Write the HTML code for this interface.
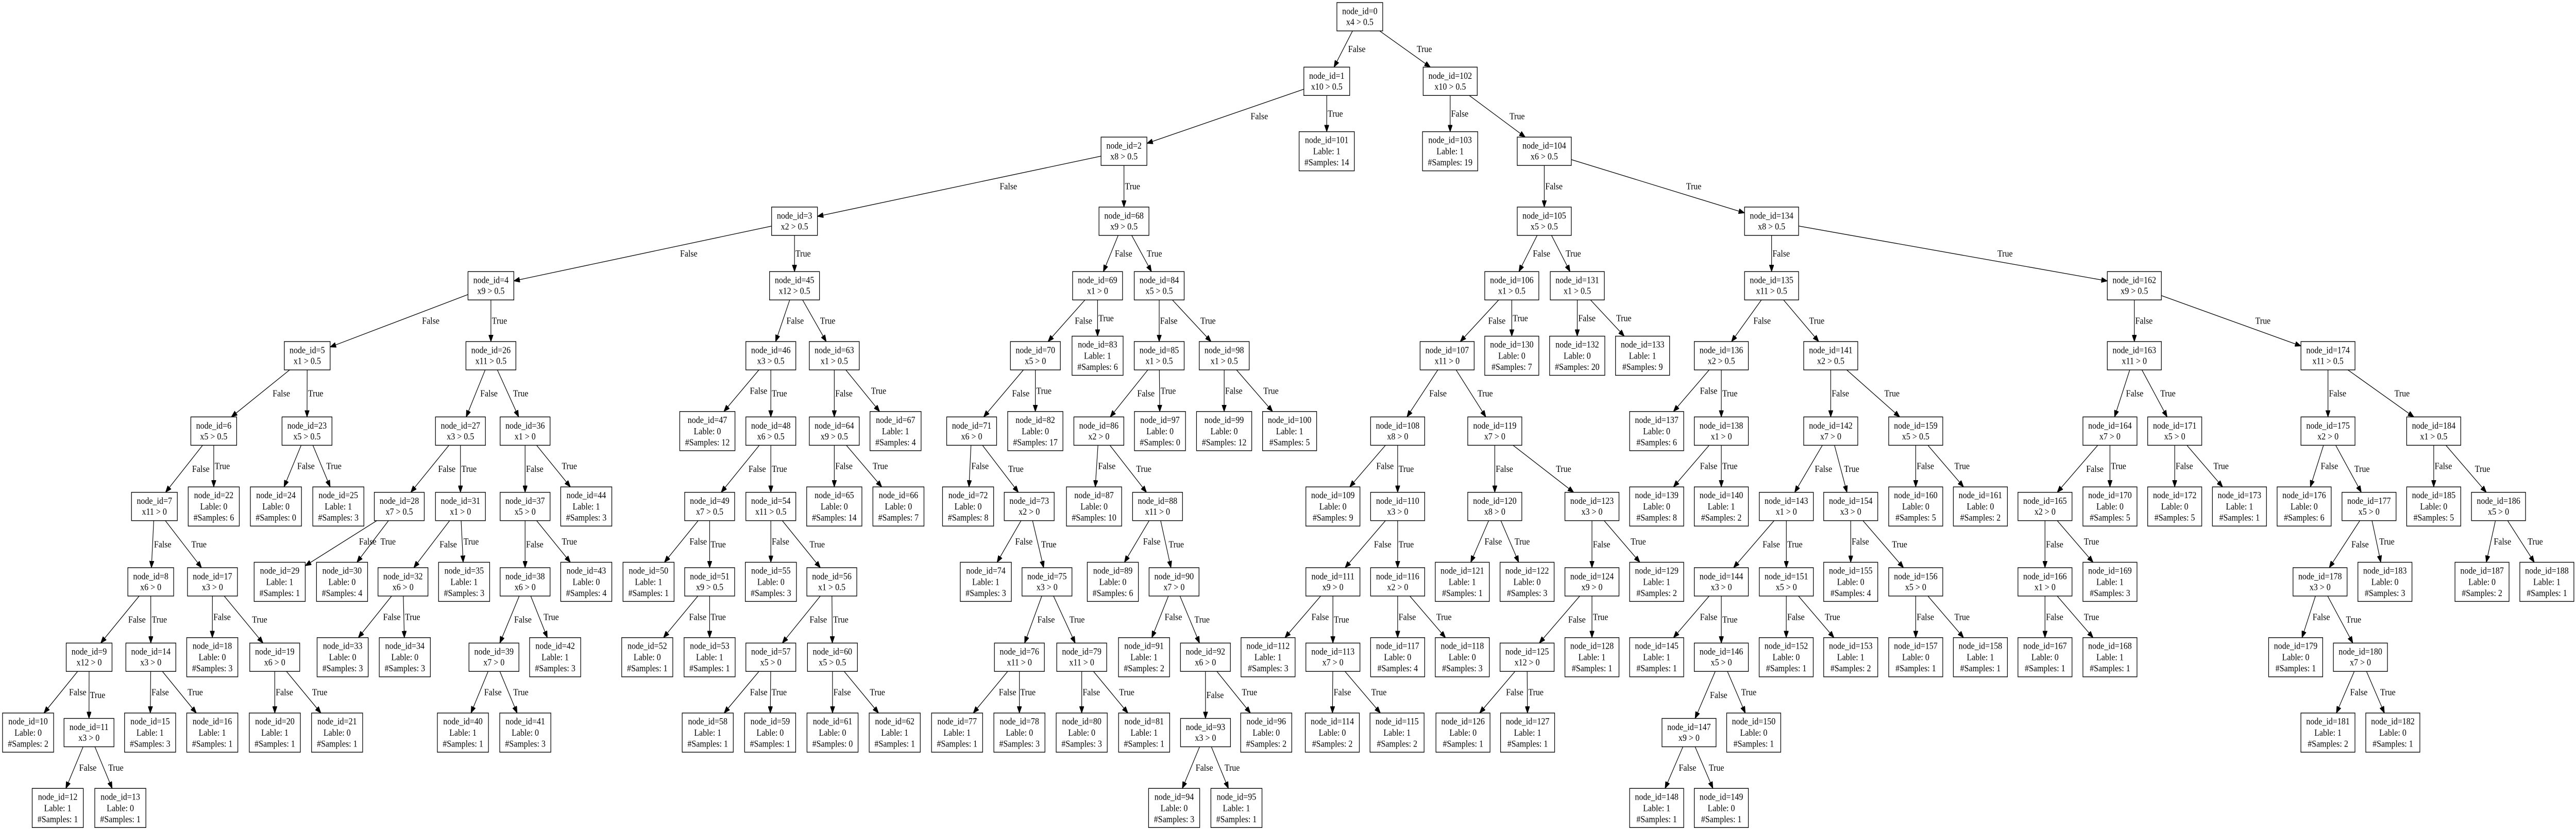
<!DOCTYPE html>
<html><head><meta charset="utf-8">
<style>
html,body{margin:0;padding:0;background:#fff;overflow:hidden}
svg{display:block;width:100vw;height:100vh}
text{font-family:"Liberation Serif","Times New Roman",serif;font-size:18px;text-anchor:middle;fill:#000}
text.el{text-anchor:start}
.bx{fill:#fff;stroke:#000;stroke-width:1.4}
#E line{stroke:#000;stroke-width:1.3}
</style></head><body>
<svg xmlns="http://www.w3.org/2000/svg" xmlns:xlink="http://www.w3.org/1999/xlink" width="5622" height="1613" viewBox="0 0 5622 1613" preserveAspectRatio="none">
<defs>
<rect id="i1" class="bx" x="-50" y="-27.5" width="100" height="55"/>
<rect id="i2" class="bx" x="-54.5" y="-27.5" width="109" height="55"/>
<rect id="i3" class="bx" x="-59" y="-27.5" width="118" height="55"/>
<rect id="la" class="bx" x="-55.75" y="-38" width="111.5" height="76"/>
<rect id="lb" class="bx" x="-60.25" y="-38" width="120.5" height="76"/>
<rect id="lc" class="bx" x="-59" y="-38" width="118" height="76"/>
<marker id="ah" viewBox="0 0 13 10" refX="13" refY="5" markerWidth="13" markerHeight="10" markerUnits="userSpaceOnUse" orient="auto"><path d="M0,0 L13,5 L0,10 z" fill="#000" stroke="#000" stroke-width="1"/></marker>
</defs>
<rect width="5622" height="1613" fill="#fff"/>
<g id="E"></g>
<g id="N">
<g class="n" id="n0" transform="translate(2967.7,32.5)"><use href="#i1"/><text y="-5">node_id=0</text><text y="16">x4 &gt; 0.5</text></g>
<g class="n" id="n1" transform="translate(2895.6,157.8)"><use href="#i1"/><text y="-5">node_id=1</text><text y="16">x10 &gt; 0.5</text></g>
<g class="n" id="n102" transform="translate(3165,157.8)"><use href="#i3"/><text y="-5">node_id=102</text><text y="16">x10 &gt; 0.5</text></g>
<g class="n" id="n101" transform="translate(2895.5,293.6)"><use href="#lb"/><text y="-16">node_id=101</text><text y="6">Lable: 1</text><text y="27.5">#Samples: 14</text></g>
<g class="n" id="n103" transform="translate(3164.8,293.6)"><use href="#lb"/><text y="-16">node_id=103</text><text y="6">Lable: 1</text><text y="27.5">#Samples: 19</text></g>
<g class="n" id="n104" transform="translate(3370.3,293.6)"><use href="#i3"/><text y="-5">node_id=104</text><text y="16">x6 &gt; 0.5</text></g>
<g class="n" id="n2" transform="translate(2453,293.6)"><use href="#i1"/><text y="-5">node_id=2</text><text y="16">x8 &gt; 0.5</text></g>
<g class="n" id="n3" transform="translate(1734,429.4)"><use href="#i1"/><text y="-5">node_id=3</text><text y="16">x2 &gt; 0.5</text></g>
<g class="n" id="n68" transform="translate(2453,429.4)"><use href="#i2"/><text y="-5">node_id=68</text><text y="16">x9 &gt; 0.5</text></g>
<g class="n" id="n105" transform="translate(3370.3,429.4)"><use href="#i3"/><text y="-5">node_id=105</text><text y="16">x5 &gt; 0.5</text></g>
<g class="n" id="n134" transform="translate(3866.4,429.4)"><use href="#i3"/><text y="-5">node_id=134</text><text y="16">x8 &gt; 0.5</text></g>
<g class="n" id="n4" transform="translate(1071.4,554.7)"><use href="#i1"/><text y="-5">node_id=4</text><text y="16">x9 &gt; 0.5</text></g>
<g class="n" id="n45" transform="translate(1734,554.7)"><use href="#i2"/><text y="-5">node_id=45</text><text y="16">x12 &gt; 0.5</text></g>
<g class="n" id="n69" transform="translate(2395.4,554.7)"><use href="#i2"/><text y="-5">node_id=69</text><text y="16">x1 &gt; 0</text></g>
<g class="n" id="n84" transform="translate(2529.9,554.7)"><use href="#i2"/><text y="-5">node_id=84</text><text y="16">x5 &gt; 0.5</text></g>
<g class="n" id="n106" transform="translate(3299.4,554.7)"><use href="#i3"/><text y="-5">node_id=106</text><text y="16">x1 &gt; 0.5</text></g>
<g class="n" id="n131" transform="translate(3442.4,554.7)"><use href="#i3"/><text y="-5">node_id=131</text><text y="16">x1 &gt; 0.5</text></g>
<g class="n" id="n135" transform="translate(3866.4,554.7)"><use href="#i3"/><text y="-5">node_id=135</text><text y="16">x11 &gt; 0.5</text></g>
<g class="n" id="n162" transform="translate(4658.1,554.7)"><use href="#i3"/><text y="-5">node_id=162</text><text y="16">x9 &gt; 0.5</text></g>
<g class="n" id="n5" transform="translate(670.5,690.5)"><use href="#i1"/><text y="-5">node_id=5</text><text y="16">x1 &gt; 0.5</text></g>
<g class="n" id="n26" transform="translate(1071.4,690.5)"><use href="#i2"/><text y="-5">node_id=26</text><text y="16">x11 &gt; 0.5</text></g>
<g class="n" id="n46" transform="translate(1682.3,690.5)"><use href="#i2"/><text y="-5">node_id=46</text><text y="16">x3 &gt; 0.5</text></g>
<g class="n" id="n63" transform="translate(1820.8,690.5)"><use href="#i2"/><text y="-5">node_id=63</text><text y="16">x1 &gt; 0.5</text></g>
<g class="n" id="n70" transform="translate(2259.7,690.5)"><use href="#i2"/><text y="-5">node_id=70</text><text y="16">x5 &gt; 0</text></g>
<g class="n" id="n83" transform="translate(2395.4,690.5)"><use href="#la"/><text y="-16">node_id=83</text><text y="6">Lable: 1</text><text y="27.5">#Samples: 6</text></g>
<g class="n" id="n85" transform="translate(2529.9,690.5)"><use href="#i2"/><text y="-5">node_id=85</text><text y="16">x1 &gt; 0.5</text></g>
<g class="n" id="n98" transform="translate(2671.8,690.5)"><use href="#i2"/><text y="-5">node_id=98</text><text y="16">x1 &gt; 0.5</text></g>
<g class="n" id="n107" transform="translate(3158.3,690.5)"><use href="#i3"/><text y="-5">node_id=107</text><text y="16">x11 &gt; 0</text></g>
<g class="n" id="n130" transform="translate(3299.4,690.5)"><use href="#lc"/><text y="-16">node_id=130</text><text y="6">Lable: 0</text><text y="27.5">#Samples: 7</text></g>
<g class="n" id="n132" transform="translate(3442.2,690.5)"><use href="#lb"/><text y="-16">node_id=132</text><text y="6">Lable: 0</text><text y="27.5">#Samples: 20</text></g>
<g class="n" id="n133" transform="translate(3584.8,690.5)"><use href="#lc"/><text y="-16">node_id=133</text><text y="6">Lable: 1</text><text y="27.5">#Samples: 9</text></g>
<g class="n" id="n136" transform="translate(3756.7,690.5)"><use href="#i3"/><text y="-5">node_id=136</text><text y="16">x2 &gt; 0.5</text></g>
<g class="n" id="n141" transform="translate(3995.5,690.5)"><use href="#i3"/><text y="-5">node_id=141</text><text y="16">x2 &gt; 0.5</text></g>
<g class="n" id="n163" transform="translate(4658.1,690.5)"><use href="#i3"/><text y="-5">node_id=163</text><text y="16">x11 &gt; 0</text></g>
<g class="n" id="n174" transform="translate(5080.7,690.5)"><use href="#i3"/><text y="-5">node_id=174</text><text y="16">x11 &gt; 0.5</text></g>
<g class="n" id="n6" transform="translate(466.5,836.8)"><use href="#i1"/><text y="-5">node_id=6</text><text y="16">x5 &gt; 0.5</text></g>
<g class="n" id="n23" transform="translate(670,836.8)"><use href="#i2"/><text y="-5">node_id=23</text><text y="16">x5 &gt; 0.5</text></g>
<g class="n" id="n27" transform="translate(1004.9,836.8)"><use href="#i2"/><text y="-5">node_id=27</text><text y="16">x3 &gt; 0.5</text></g>
<g class="n" id="n36" transform="translate(1146,836.8)"><use href="#i2"/><text y="-5">node_id=36</text><text y="16">x1 &gt; 0</text></g>
<g class="n" id="n47" transform="translate(1543.8,836.8)"><use href="#lb"/><text y="-16">node_id=47</text><text y="6">Lable: 0</text><text y="27.5">#Samples: 12</text></g>
<g class="n" id="n48" transform="translate(1682.3,836.8)"><use href="#i2"/><text y="-5">node_id=48</text><text y="16">x6 &gt; 0.5</text></g>
<g class="n" id="n64" transform="translate(1820.8,836.8)"><use href="#i2"/><text y="-5">node_id=64</text><text y="16">x9 &gt; 0.5</text></g>
<g class="n" id="n67" transform="translate(1954.5,836.8)"><use href="#la"/><text y="-16">node_id=67</text><text y="6">Lable: 1</text><text y="27.5">#Samples: 4</text></g>
<g class="n" id="n71" transform="translate(2120.6,836.8)"><use href="#i2"/><text y="-5">node_id=71</text><text y="16">x6 &gt; 0</text></g>
<g class="n" id="n82" transform="translate(2259.5,836.8)"><use href="#lb"/><text y="-16">node_id=82</text><text y="6">Lable: 0</text><text y="27.5">#Samples: 17</text></g>
<g class="n" id="n86" transform="translate(2398.2,836.8)"><use href="#i2"/><text y="-5">node_id=86</text><text y="16">x2 &gt; 0</text></g>
<g class="n" id="n97" transform="translate(2531.6,836.8)"><use href="#la"/><text y="-16">node_id=97</text><text y="6">Lable: 0</text><text y="27.5">#Samples: 0</text></g>
<g class="n" id="n99" transform="translate(2671.6,836.8)"><use href="#lb"/><text y="-16">node_id=99</text><text y="6">Lable: 0</text><text y="27.5">#Samples: 12</text></g>
<g class="n" id="n100" transform="translate(2814.5,836.8)"><use href="#lc"/><text y="-16">node_id=100</text><text y="6">Lable: 1</text><text y="27.5">#Samples: 5</text></g>
<g class="n" id="n108" transform="translate(3050.3,836.8)"><use href="#i3"/><text y="-5">node_id=108</text><text y="16">x8 &gt; 0</text></g>
<g class="n" id="n119" transform="translate(3262.3,836.8)"><use href="#i3"/><text y="-5">node_id=119</text><text y="16">x7 &gt; 0</text></g>
<g class="n" id="n137" transform="translate(3615.6,836.8)"><use href="#lc"/><text y="-16">node_id=137</text><text y="6">Lable: 0</text><text y="27.5">#Samples: 6</text></g>
<g class="n" id="n138" transform="translate(3756.7,836.8)"><use href="#i3"/><text y="-5">node_id=138</text><text y="16">x1 &gt; 0</text></g>
<g class="n" id="n142" transform="translate(3995.5,836.8)"><use href="#i3"/><text y="-5">node_id=142</text><text y="16">x7 &gt; 0</text></g>
<g class="n" id="n159" transform="translate(4181,836.8)"><use href="#i3"/><text y="-5">node_id=159</text><text y="16">x5 &gt; 0.5</text></g>
<g class="n" id="n164" transform="translate(4604.9,836.8)"><use href="#i3"/><text y="-5">node_id=164</text><text y="16">x7 &gt; 0</text></g>
<g class="n" id="n171" transform="translate(4746.2,836.8)"><use href="#i3"/><text y="-5">node_id=171</text><text y="16">x5 &gt; 0</text></g>
<g class="n" id="n175" transform="translate(5080.7,836.8)"><use href="#i3"/><text y="-5">node_id=175</text><text y="16">x2 &gt; 0</text></g>
<g class="n" id="n184" transform="translate(5311.5,836.8)"><use href="#i3"/><text y="-5">node_id=184</text><text y="16">x1 &gt; 0.5</text></g>
<g class="n" id="n7" transform="translate(337,983.1)"><use href="#i1"/><text y="-5">node_id=7</text><text y="16">x11 &gt; 0</text></g>
<g class="n" id="n22" transform="translate(466.5,983.1)"><use href="#la"/><text y="-16">node_id=22</text><text y="6">Lable: 0</text><text y="27.5">#Samples: 6</text></g>
<g class="n" id="n24" transform="translate(602.2,983.1)"><use href="#la"/><text y="-16">node_id=24</text><text y="6">Lable: 0</text><text y="27.5">#Samples: 0</text></g>
<g class="n" id="n25" transform="translate(738.4,983.1)"><use href="#la"/><text y="-16">node_id=25</text><text y="6">Lable: 1</text><text y="27.5">#Samples: 3</text></g>
<g class="n" id="n28" transform="translate(871.4,983.1)"><use href="#i2"/><text y="-5">node_id=28</text><text y="16">x7 &gt; 0.5</text></g>
<g class="n" id="n31" transform="translate(1004.9,983.1)"><use href="#i2"/><text y="-5">node_id=31</text><text y="16">x1 &gt; 0</text></g>
<g class="n" id="n37" transform="translate(1146,983.1)"><use href="#i2"/><text y="-5">node_id=37</text><text y="16">x5 &gt; 0</text></g>
<g class="n" id="n44" transform="translate(1279.5,983.1)"><use href="#la"/><text y="-16">node_id=44</text><text y="6">Lable: 1</text><text y="27.5">#Samples: 3</text></g>
<g class="n" id="n49" transform="translate(1548.8,983.1)"><use href="#i2"/><text y="-5">node_id=49</text><text y="16">x7 &gt; 0.5</text></g>
<g class="n" id="n54" transform="translate(1682.3,983.1)"><use href="#i2"/><text y="-5">node_id=54</text><text y="16">x11 &gt; 0.5</text></g>
<g class="n" id="n65" transform="translate(1820.8,983.1)"><use href="#lb"/><text y="-16">node_id=65</text><text y="6">Lable: 0</text><text y="27.5">#Samples: 14</text></g>
<g class="n" id="n66" transform="translate(1960.8,983.1)"><use href="#la"/><text y="-16">node_id=66</text><text y="6">Lable: 0</text><text y="27.5">#Samples: 7</text></g>
<g class="n" id="n72" transform="translate(2112.8,983.1)"><use href="#la"/><text y="-16">node_id=72</text><text y="6">Lable: 0</text><text y="27.5">#Samples: 8</text></g>
<g class="n" id="n73" transform="translate(2246.2,983.1)"><use href="#i2"/><text y="-5">node_id=73</text><text y="16">x2 &gt; 0</text></g>
<g class="n" id="n87" transform="translate(2387.7,983.1)"><use href="#lb"/><text y="-16">node_id=87</text><text y="6">Lable: 0</text><text y="27.5">#Samples: 10</text></g>
<g class="n" id="n88" transform="translate(2526.3,983.1)"><use href="#i2"/><text y="-5">node_id=88</text><text y="16">x11 &gt; 0</text></g>
<g class="n" id="n109" transform="translate(2909,983.1)"><use href="#lc"/><text y="-16">node_id=109</text><text y="6">Lable: 0</text><text y="27.5">#Samples: 9</text></g>
<g class="n" id="n110" transform="translate(3050.3,983.1)"><use href="#i3"/><text y="-5">node_id=110</text><text y="16">x3 &gt; 0</text></g>
<g class="n" id="n120" transform="translate(3262.3,983.1)"><use href="#i3"/><text y="-5">node_id=120</text><text y="16">x8 &gt; 0</text></g>
<g class="n" id="n123" transform="translate(3474.4,983.1)"><use href="#i3"/><text y="-5">node_id=123</text><text y="16">x3 &gt; 0</text></g>
<g class="n" id="n139" transform="translate(3615.6,983.1)"><use href="#lc"/><text y="-16">node_id=139</text><text y="6">Lable: 0</text><text y="27.5">#Samples: 8</text></g>
<g class="n" id="n140" transform="translate(3756.7,983.1)"><use href="#lc"/><text y="-16">node_id=140</text><text y="6">Lable: 1</text><text y="27.5">#Samples: 2</text></g>
<g class="n" id="n143" transform="translate(3898.6,983.1)"><use href="#i3"/><text y="-5">node_id=143</text><text y="16">x1 &gt; 0</text></g>
<g class="n" id="n154" transform="translate(4039.1,983.1)"><use href="#i3"/><text y="-5">node_id=154</text><text y="16">x3 &gt; 0</text></g>
<g class="n" id="n160" transform="translate(4181,983.1)"><use href="#lc"/><text y="-16">node_id=160</text><text y="6">Lable: 0</text><text y="27.5">#Samples: 5</text></g>
<g class="n" id="n161" transform="translate(4322.1,983.1)"><use href="#lc"/><text y="-16">node_id=161</text><text y="6">Lable: 0</text><text y="27.5">#Samples: 2</text></g>
<g class="n" id="n165" transform="translate(4463.1,983.1)"><use href="#i3"/><text y="-5">node_id=165</text><text y="16">x2 &gt; 0</text></g>
<g class="n" id="n170" transform="translate(4604.9,983.1)"><use href="#lc"/><text y="-16">node_id=170</text><text y="6">Lable: 0</text><text y="27.5">#Samples: 5</text></g>
<g class="n" id="n172" transform="translate(4746.2,983.1)"><use href="#lc"/><text y="-16">node_id=172</text><text y="6">Lable: 0</text><text y="27.5">#Samples: 5</text></g>
<g class="n" id="n173" transform="translate(4887.5,983.1)"><use href="#lc"/><text y="-16">node_id=173</text><text y="6">Lable: 1</text><text y="27.5">#Samples: 1</text></g>
<g class="n" id="n176" transform="translate(5028.7,983.1)"><use href="#lc"/><text y="-16">node_id=176</text><text y="6">Lable: 0</text><text y="27.5">#Samples: 6</text></g>
<g class="n" id="n177" transform="translate(5170.3,983.1)"><use href="#i3"/><text y="-5">node_id=177</text><text y="16">x5 &gt; 0</text></g>
<g class="n" id="n185" transform="translate(5311.5,983.1)"><use href="#lc"/><text y="-16">node_id=185</text><text y="6">Lable: 0</text><text y="27.5">#Samples: 5</text></g>
<g class="n" id="n186" transform="translate(5452.9,983.1)"><use href="#i3"/><text y="-5">node_id=186</text><text y="16">x5 &gt; 0</text></g>
<g class="n" id="n8" transform="translate(329,1129.4)"><use href="#i1"/><text y="-5">node_id=8</text><text y="16">x6 &gt; 0</text></g>
<g class="n" id="n17" transform="translate(463.7,1129.4)"><use href="#i2"/><text y="-5">node_id=17</text><text y="16">x3 &gt; 0</text></g>
<g class="n" id="n29" transform="translate(610.4,1129.4)"><use href="#la"/><text y="-16">node_id=29</text><text y="6">Lable: 1</text><text y="27.5">#Samples: 1</text></g>
<g class="n" id="n30" transform="translate(746.5,1129.4)"><use href="#la"/><text y="-16">node_id=30</text><text y="6">Lable: 0</text><text y="27.5">#Samples: 4</text></g>
<g class="n" id="n32" transform="translate(879.5,1129.4)"><use href="#i2"/><text y="-5">node_id=32</text><text y="16">x6 &gt; 0</text></g>
<g class="n" id="n35" transform="translate(1012.9,1129.4)"><use href="#la"/><text y="-16">node_id=35</text><text y="6">Lable: 1</text><text y="27.5">#Samples: 3</text></g>
<g class="n" id="n38" transform="translate(1146,1129.4)"><use href="#i2"/><text y="-5">node_id=38</text><text y="16">x6 &gt; 0</text></g>
<g class="n" id="n43" transform="translate(1279.5,1129.4)"><use href="#la"/><text y="-16">node_id=43</text><text y="6">Lable: 0</text><text y="27.5">#Samples: 4</text></g>
<g class="n" id="n50" transform="translate(1415.4,1129.4)"><use href="#la"/><text y="-16">node_id=50</text><text y="6">Lable: 1</text><text y="27.5">#Samples: 1</text></g>
<g class="n" id="n51" transform="translate(1548.8,1129.4)"><use href="#i2"/><text y="-5">node_id=51</text><text y="16">x9 &gt; 0.5</text></g>
<g class="n" id="n55" transform="translate(1682.4,1129.4)"><use href="#la"/><text y="-16">node_id=55</text><text y="6">Lable: 0</text><text y="27.5">#Samples: 3</text></g>
<g class="n" id="n56" transform="translate(1815.4,1129.4)"><use href="#i2"/><text y="-5">node_id=56</text><text y="16">x1 &gt; 0.5</text></g>
<g class="n" id="n74" transform="translate(2151.5,1129.4)"><use href="#la"/><text y="-16">node_id=74</text><text y="6">Lable: 1</text><text y="27.5">#Samples: 3</text></g>
<g class="n" id="n75" transform="translate(2285,1129.4)"><use href="#i2"/><text y="-5">node_id=75</text><text y="16">x3 &gt; 0</text></g>
<g class="n" id="n89" transform="translate(2428.7,1129.4)"><use href="#la"/><text y="-16">node_id=89</text><text y="6">Lable: 0</text><text y="27.5">#Samples: 6</text></g>
<g class="n" id="n90" transform="translate(2562.3,1129.4)"><use href="#i2"/><text y="-5">node_id=90</text><text y="16">x7 &gt; 0</text></g>
<g class="n" id="n111" transform="translate(2909,1129.4)"><use href="#i3"/><text y="-5">node_id=111</text><text y="16">x9 &gt; 0</text></g>
<g class="n" id="n116" transform="translate(3050.3,1129.4)"><use href="#i3"/><text y="-5">node_id=116</text><text y="16">x2 &gt; 0</text></g>
<g class="n" id="n121" transform="translate(3191.4,1129.4)"><use href="#lc"/><text y="-16">node_id=121</text><text y="6">Lable: 1</text><text y="27.5">#Samples: 1</text></g>
<g class="n" id="n122" transform="translate(3332.8,1129.4)"><use href="#lc"/><text y="-16">node_id=122</text><text y="6">Lable: 0</text><text y="27.5">#Samples: 3</text></g>
<g class="n" id="n124" transform="translate(3474.4,1129.4)"><use href="#i3"/><text y="-5">node_id=124</text><text y="16">x9 &gt; 0</text></g>
<g class="n" id="n129" transform="translate(3615.6,1129.4)"><use href="#lc"/><text y="-16">node_id=129</text><text y="6">Lable: 1</text><text y="27.5">#Samples: 2</text></g>
<g class="n" id="n144" transform="translate(3756.7,1129.4)"><use href="#i3"/><text y="-5">node_id=144</text><text y="16">x3 &gt; 0</text></g>
<g class="n" id="n151" transform="translate(3898.6,1129.4)"><use href="#i3"/><text y="-5">node_id=151</text><text y="16">x5 &gt; 0</text></g>
<g class="n" id="n155" transform="translate(4039.1,1129.4)"><use href="#lc"/><text y="-16">node_id=155</text><text y="6">Lable: 0</text><text y="27.5">#Samples: 4</text></g>
<g class="n" id="n156" transform="translate(4181,1129.4)"><use href="#i3"/><text y="-5">node_id=156</text><text y="16">x5 &gt; 0</text></g>
<g class="n" id="n166" transform="translate(4463.1,1129.4)"><use href="#i3"/><text y="-5">node_id=166</text><text y="16">x1 &gt; 0</text></g>
<g class="n" id="n169" transform="translate(4604.9,1129.4)"><use href="#lc"/><text y="-16">node_id=169</text><text y="6">Lable: 1</text><text y="27.5">#Samples: 3</text></g>
<g class="n" id="n178" transform="translate(5063.4,1129.4)"><use href="#i3"/><text y="-5">node_id=178</text><text y="16">x3 &gt; 0</text></g>
<g class="n" id="n183" transform="translate(5205,1129.4)"><use href="#lc"/><text y="-16">node_id=183</text><text y="6">Lable: 0</text><text y="27.5">#Samples: 3</text></g>
<g class="n" id="n187" transform="translate(5416.9,1129.4)"><use href="#lc"/><text y="-16">node_id=187</text><text y="6">Lable: 0</text><text y="27.5">#Samples: 2</text></g>
<g class="n" id="n188" transform="translate(5558.4,1129.4)"><use href="#lc"/><text y="-16">node_id=188</text><text y="6">Lable: 1</text><text y="27.5">#Samples: 1</text></g>
<g class="n" id="n9" transform="translate(194.5,1275.7)"><use href="#i1"/><text y="-5">node_id=9</text><text y="16">x12 &gt; 0</text></g>
<g class="n" id="n14" transform="translate(329.2,1275.7)"><use href="#i2"/><text y="-5">node_id=14</text><text y="16">x3 &gt; 0</text></g>
<g class="n" id="n18" transform="translate(463.3,1275.7)"><use href="#la"/><text y="-16">node_id=18</text><text y="6">Lable: 0</text><text y="27.5">#Samples: 3</text></g>
<g class="n" id="n19" transform="translate(599.6,1275.7)"><use href="#i2"/><text y="-5">node_id=19</text><text y="16">x6 &gt; 0</text></g>
<g class="n" id="n33" transform="translate(747.8,1275.7)"><use href="#la"/><text y="-16">node_id=33</text><text y="6">Lable: 0</text><text y="27.5">#Samples: 3</text></g>
<g class="n" id="n34" transform="translate(883.5,1275.7)"><use href="#la"/><text y="-16">node_id=34</text><text y="6">Lable: 0</text><text y="27.5">#Samples: 3</text></g>
<g class="n" id="n39" transform="translate(1078,1275.7)"><use href="#i2"/><text y="-5">node_id=39</text><text y="16">x7 &gt; 0</text></g>
<g class="n" id="n42" transform="translate(1211.6,1275.7)"><use href="#la"/><text y="-16">node_id=42</text><text y="6">Lable: 1</text><text y="27.5">#Samples: 3</text></g>
<g class="n" id="n52" transform="translate(1412.6,1275.7)"><use href="#la"/><text y="-16">node_id=52</text><text y="6">Lable: 0</text><text y="27.5">#Samples: 1</text></g>
<g class="n" id="n53" transform="translate(1548.7,1275.7)"><use href="#la"/><text y="-16">node_id=53</text><text y="6">Lable: 1</text><text y="27.5">#Samples: 1</text></g>
<g class="n" id="n57" transform="translate(1682.3,1275.7)"><use href="#i2"/><text y="-5">node_id=57</text><text y="16">x5 &gt; 0</text></g>
<g class="n" id="n60" transform="translate(1816.8,1275.7)"><use href="#i2"/><text y="-5">node_id=60</text><text y="16">x5 &gt; 0.5</text></g>
<g class="n" id="n76" transform="translate(2224.8,1275.7)"><use href="#i2"/><text y="-5">node_id=76</text><text y="16">x11 &gt; 0</text></g>
<g class="n" id="n79" transform="translate(2360.8,1275.7)"><use href="#i2"/><text y="-5">node_id=79</text><text y="16">x11 &gt; 0</text></g>
<g class="n" id="n91" transform="translate(2496.8,1275.7)"><use href="#la"/><text y="-16">node_id=91</text><text y="6">Lable: 1</text><text y="27.5">#Samples: 2</text></g>
<g class="n" id="n92" transform="translate(2630.8,1275.7)"><use href="#i2"/><text y="-5">node_id=92</text><text y="16">x6 &gt; 0</text></g>
<g class="n" id="n112" transform="translate(2767.5,1275.7)"><use href="#lc"/><text y="-16">node_id=112</text><text y="6">Lable: 1</text><text y="27.5">#Samples: 3</text></g>
<g class="n" id="n113" transform="translate(2909,1275.7)"><use href="#i3"/><text y="-5">node_id=113</text><text y="16">x7 &gt; 0</text></g>
<g class="n" id="n117" transform="translate(3050.3,1275.7)"><use href="#lc"/><text y="-16">node_id=117</text><text y="6">Lable: 0</text><text y="27.5">#Samples: 4</text></g>
<g class="n" id="n118" transform="translate(3191.4,1275.7)"><use href="#lc"/><text y="-16">node_id=118</text><text y="6">Lable: 0</text><text y="27.5">#Samples: 3</text></g>
<g class="n" id="n125" transform="translate(3332.8,1275.7)"><use href="#i3"/><text y="-5">node_id=125</text><text y="16">x12 &gt; 0</text></g>
<g class="n" id="n128" transform="translate(3474.4,1275.7)"><use href="#lc"/><text y="-16">node_id=128</text><text y="6">Lable: 1</text><text y="27.5">#Samples: 1</text></g>
<g class="n" id="n145" transform="translate(3615.6,1275.7)"><use href="#lc"/><text y="-16">node_id=145</text><text y="6">Lable: 1</text><text y="27.5">#Samples: 1</text></g>
<g class="n" id="n146" transform="translate(3756.7,1275.7)"><use href="#i3"/><text y="-5">node_id=146</text><text y="16">x5 &gt; 0</text></g>
<g class="n" id="n152" transform="translate(3898.3,1275.7)"><use href="#lc"/><text y="-16">node_id=152</text><text y="6">Lable: 0</text><text y="27.5">#Samples: 1</text></g>
<g class="n" id="n153" transform="translate(4039.1,1275.7)"><use href="#lc"/><text y="-16">node_id=153</text><text y="6">Lable: 1</text><text y="27.5">#Samples: 2</text></g>
<g class="n" id="n157" transform="translate(4181,1275.7)"><use href="#lc"/><text y="-16">node_id=157</text><text y="6">Lable: 0</text><text y="27.5">#Samples: 1</text></g>
<g class="n" id="n158" transform="translate(4322.1,1275.7)"><use href="#lc"/><text y="-16">node_id=158</text><text y="6">Lable: 1</text><text y="27.5">#Samples: 1</text></g>
<g class="n" id="n167" transform="translate(4463.1,1275.7)"><use href="#lc"/><text y="-16">node_id=167</text><text y="6">Lable: 0</text><text y="27.5">#Samples: 1</text></g>
<g class="n" id="n168" transform="translate(4604.9,1275.7)"><use href="#lc"/><text y="-16">node_id=168</text><text y="6">Lable: 1</text><text y="27.5">#Samples: 1</text></g>
<g class="n" id="n179" transform="translate(5010.2,1275.7)"><use href="#lc"/><text y="-16">node_id=179</text><text y="6">Lable: 0</text><text y="27.5">#Samples: 1</text></g>
<g class="n" id="n180" transform="translate(5151.5,1275.7)"><use href="#i3"/><text y="-5">node_id=180</text><text y="16">x7 &gt; 0</text></g>
<g class="n" id="n10" transform="translate(61.3,1422)"><use href="#la"/><text y="-16">node_id=10</text><text y="6">Lable: 0</text><text y="27.5">#Samples: 2</text></g>
<g class="n" id="n11" transform="translate(194.2,1422)"><use href="#i2"/><text y="-5">node_id=11</text><text y="16">x3 &gt; 0</text></g>
<g class="n" id="n15" transform="translate(327.6,1422)"><use href="#la"/><text y="-16">node_id=15</text><text y="6">Lable: 1</text><text y="27.5">#Samples: 3</text></g>
<g class="n" id="n16" transform="translate(463.3,1422)"><use href="#la"/><text y="-16">node_id=16</text><text y="6">Lable: 1</text><text y="27.5">#Samples: 1</text></g>
<g class="n" id="n20" transform="translate(599.8,1422)"><use href="#la"/><text y="-16">node_id=20</text><text y="6">Lable: 1</text><text y="27.5">#Samples: 1</text></g>
<g class="n" id="n21" transform="translate(735.7,1422)"><use href="#la"/><text y="-16">node_id=21</text><text y="6">Lable: 0</text><text y="27.5">#Samples: 1</text></g>
<g class="n" id="n40" transform="translate(1010.3,1422)"><use href="#la"/><text y="-16">node_id=40</text><text y="6">Lable: 1</text><text y="27.5">#Samples: 1</text></g>
<g class="n" id="n41" transform="translate(1146.4,1422)"><use href="#la"/><text y="-16">node_id=41</text><text y="6">Lable: 0</text><text y="27.5">#Samples: 3</text></g>
<g class="n" id="n58" transform="translate(1544.6,1422)"><use href="#la"/><text y="-16">node_id=58</text><text y="6">Lable: 1</text><text y="27.5">#Samples: 1</text></g>
<g class="n" id="n59" transform="translate(1680.8,1422)"><use href="#la"/><text y="-16">node_id=59</text><text y="6">Lable: 0</text><text y="27.5">#Samples: 1</text></g>
<g class="n" id="n61" transform="translate(1817,1422)"><use href="#la"/><text y="-16">node_id=61</text><text y="6">Lable: 0</text><text y="27.5">#Samples: 0</text></g>
<g class="n" id="n62" transform="translate(1952.7,1422)"><use href="#la"/><text y="-16">node_id=62</text><text y="6">Lable: 1</text><text y="27.5">#Samples: 1</text></g>
<g class="n" id="n77" transform="translate(2088.8,1422)"><use href="#la"/><text y="-16">node_id=77</text><text y="6">Lable: 1</text><text y="27.5">#Samples: 1</text></g>
<g class="n" id="n78" transform="translate(2224.8,1422)"><use href="#la"/><text y="-16">node_id=78</text><text y="6">Lable: 0</text><text y="27.5">#Samples: 3</text></g>
<g class="n" id="n80" transform="translate(2360.8,1422)"><use href="#la"/><text y="-16">node_id=80</text><text y="6">Lable: 0</text><text y="27.5">#Samples: 3</text></g>
<g class="n" id="n81" transform="translate(2497,1422)"><use href="#la"/><text y="-16">node_id=81</text><text y="6">Lable: 1</text><text y="27.5">#Samples: 1</text></g>
<g class="n" id="n93" transform="translate(2631,1422)"><use href="#i2"/><text y="-5">node_id=93</text><text y="16">x3 &gt; 0</text></g>
<g class="n" id="n96" transform="translate(2763.5,1422)"><use href="#la"/><text y="-16">node_id=96</text><text y="6">Lable: 0</text><text y="27.5">#Samples: 2</text></g>
<g class="n" id="n114" transform="translate(2907.7,1422)"><use href="#lc"/><text y="-16">node_id=114</text><text y="6">Lable: 0</text><text y="27.5">#Samples: 2</text></g>
<g class="n" id="n115" transform="translate(3049,1422)"><use href="#lc"/><text y="-16">node_id=115</text><text y="6">Lable: 1</text><text y="27.5">#Samples: 2</text></g>
<g class="n" id="n126" transform="translate(3192.9,1422)"><use href="#lc"/><text y="-16">node_id=126</text><text y="6">Lable: 0</text><text y="27.5">#Samples: 1</text></g>
<g class="n" id="n127" transform="translate(3333.9,1422)"><use href="#lc"/><text y="-16">node_id=127</text><text y="6">Lable: 1</text><text y="27.5">#Samples: 1</text></g>
<g class="n" id="n147" transform="translate(3686.2,1422)"><use href="#i3"/><text y="-5">node_id=147</text><text y="16">x9 &gt; 0</text></g>
<g class="n" id="n150" transform="translate(3827.4,1422)"><use href="#lc"/><text y="-16">node_id=150</text><text y="6">Lable: 0</text><text y="27.5">#Samples: 1</text></g>
<g class="n" id="n181" transform="translate(5080.6,1422)"><use href="#lc"/><text y="-16">node_id=181</text><text y="6">Lable: 1</text><text y="27.5">#Samples: 2</text></g>
<g class="n" id="n182" transform="translate(5222.2,1422)"><use href="#lc"/><text y="-16">node_id=182</text><text y="6">Lable: 0</text><text y="27.5">#Samples: 1</text></g>
<g class="n" id="n12" transform="translate(126,1568.3)"><use href="#la"/><text y="-16">node_id=12</text><text y="6">Lable: 1</text><text y="27.5">#Samples: 1</text></g>
<g class="n" id="n13" transform="translate(262.6,1568.3)"><use href="#la"/><text y="-16">node_id=13</text><text y="6">Lable: 0</text><text y="27.5">#Samples: 1</text></g>
<g class="n" id="n94" transform="translate(2562.5,1568.3)"><use href="#la"/><text y="-16">node_id=94</text><text y="6">Lable: 0</text><text y="27.5">#Samples: 3</text></g>
<g class="n" id="n95" transform="translate(2698.5,1568.3)"><use href="#la"/><text y="-16">node_id=95</text><text y="6">Lable: 1</text><text y="27.5">#Samples: 1</text></g>
<g class="n" id="n148" transform="translate(3615.6,1568.3)"><use href="#lc"/><text y="-16">node_id=148</text><text y="6">Lable: 1</text><text y="27.5">#Samples: 1</text></g>
<g class="n" id="n149" transform="translate(3756.7,1568.3)"><use href="#lc"/><text y="-16">node_id=149</text><text y="6">Lable: 0</text><text y="27.5">#Samples: 1</text></g>
</g>
<g id="LB">
<text class="el" id="L1">False</text><text class="el" id="L102">True</text>
<text class="el" id="L2">False</text><text class="el" id="L101">True</text>
<text class="el" id="L3">False</text><text class="el" id="L68">True</text>
<text class="el" id="L4">False</text><text class="el" id="L45">True</text>
<text class="el" id="L5">False</text><text class="el" id="L26">True</text>
<text class="el" id="L6">False</text><text class="el" id="L23">True</text>
<text class="el" id="L7">False</text><text class="el" id="L22">True</text>
<text class="el" id="L8">False</text><text class="el" id="L17">True</text>
<text class="el" id="L9">False</text><text class="el" id="L14">True</text>
<text class="el" id="L10">False</text><text class="el" id="L11">True</text>
<text class="el" id="L12">False</text><text class="el" id="L13">True</text>
<text class="el" id="L15">False</text><text class="el" id="L16">True</text>
<text class="el" id="L18">False</text><text class="el" id="L19">True</text>
<text class="el" id="L20">False</text><text class="el" id="L21">True</text>
<text class="el" id="L24">False</text><text class="el" id="L25">True</text>
<text class="el" id="L27">False</text><text class="el" id="L36">True</text>
<text class="el" id="L28">False</text><text class="el" id="L31">True</text>
<text class="el" id="L29">False</text><text class="el" id="L30">True</text>
<text class="el" id="L32">False</text><text class="el" id="L35">True</text>
<text class="el" id="L33">False</text><text class="el" id="L34">True</text>
<text class="el" id="L37">False</text><text class="el" id="L44">True</text>
<text class="el" id="L38">False</text><text class="el" id="L43">True</text>
<text class="el" id="L39">False</text><text class="el" id="L42">True</text>
<text class="el" id="L40">False</text><text class="el" id="L41">True</text>
<text class="el" id="L46">False</text><text class="el" id="L63">True</text>
<text class="el" id="L47">False</text><text class="el" id="L48">True</text>
<text class="el" id="L49">False</text><text class="el" id="L54">True</text>
<text class="el" id="L50">False</text><text class="el" id="L51">True</text>
<text class="el" id="L52">False</text><text class="el" id="L53">True</text>
<text class="el" id="L55">False</text><text class="el" id="L56">True</text>
<text class="el" id="L57">False</text><text class="el" id="L60">True</text>
<text class="el" id="L58">False</text><text class="el" id="L59">True</text>
<text class="el" id="L61">False</text><text class="el" id="L62">True</text>
<text class="el" id="L64">False</text><text class="el" id="L67">True</text>
<text class="el" id="L65">False</text><text class="el" id="L66">True</text>
<text class="el" id="L69">False</text><text class="el" id="L84">True</text>
<text class="el" id="L70">False</text><text class="el" id="L83">True</text>
<text class="el" id="L71">False</text><text class="el" id="L82">True</text>
<text class="el" id="L72">False</text><text class="el" id="L73">True</text>
<text class="el" id="L74">False</text><text class="el" id="L75">True</text>
<text class="el" id="L76">False</text><text class="el" id="L79">True</text>
<text class="el" id="L77">False</text><text class="el" id="L78">True</text>
<text class="el" id="L80">False</text><text class="el" id="L81">True</text>
<text class="el" id="L85">False</text><text class="el" id="L98">True</text>
<text class="el" id="L86">False</text><text class="el" id="L97">True</text>
<text class="el" id="L87">False</text><text class="el" id="L88">True</text>
<text class="el" id="L89">False</text><text class="el" id="L90">True</text>
<text class="el" id="L91">False</text><text class="el" id="L92">True</text>
<text class="el" id="L93">False</text><text class="el" id="L96">True</text>
<text class="el" id="L94">False</text><text class="el" id="L95">True</text>
<text class="el" id="L99">False</text><text class="el" id="L100">True</text>
<text class="el" id="L103">False</text><text class="el" id="L104">True</text>
<text class="el" id="L105">False</text><text class="el" id="L134">True</text>
<text class="el" id="L106">False</text><text class="el" id="L131">True</text>
<text class="el" id="L107">False</text><text class="el" id="L130">True</text>
<text class="el" id="L108">False</text><text class="el" id="L119">True</text>
<text class="el" id="L109">False</text><text class="el" id="L110">True</text>
<text class="el" id="L111">False</text><text class="el" id="L116">True</text>
<text class="el" id="L112">False</text><text class="el" id="L113">True</text>
<text class="el" id="L114">False</text><text class="el" id="L115">True</text>
<text class="el" id="L117">False</text><text class="el" id="L118">True</text>
<text class="el" id="L120">False</text><text class="el" id="L123">True</text>
<text class="el" id="L121">False</text><text class="el" id="L122">True</text>
<text class="el" id="L124">False</text><text class="el" id="L129">True</text>
<text class="el" id="L125">False</text><text class="el" id="L128">True</text>
<text class="el" id="L126">False</text><text class="el" id="L127">True</text>
<text class="el" id="L132">False</text><text class="el" id="L133">True</text>
<text class="el" id="L135">False</text><text class="el" id="L162">True</text>
<text class="el" id="L136">False</text><text class="el" id="L141">True</text>
<text class="el" id="L137">False</text><text class="el" id="L138">True</text>
<text class="el" id="L139">False</text><text class="el" id="L140">True</text>
<text class="el" id="L142">False</text><text class="el" id="L159">True</text>
<text class="el" id="L143">False</text><text class="el" id="L154">True</text>
<text class="el" id="L144">False</text><text class="el" id="L151">True</text>
<text class="el" id="L145">False</text><text class="el" id="L146">True</text>
<text class="el" id="L147">False</text><text class="el" id="L150">True</text>
<text class="el" id="L148">False</text><text class="el" id="L149">True</text>
<text class="el" id="L152">False</text><text class="el" id="L153">True</text>
<text class="el" id="L155">False</text><text class="el" id="L156">True</text>
<text class="el" id="L157">False</text><text class="el" id="L158">True</text>
<text class="el" id="L160">False</text><text class="el" id="L161">True</text>
<text class="el" id="L163">False</text><text class="el" id="L174">True</text>
<text class="el" id="L164">False</text><text class="el" id="L171">True</text>
<text class="el" id="L165">False</text><text class="el" id="L170">True</text>
<text class="el" id="L166">False</text><text class="el" id="L169">True</text>
<text class="el" id="L167">False</text><text class="el" id="L168">True</text>
<text class="el" id="L172">False</text><text class="el" id="L173">True</text>
<text class="el" id="L175">False</text><text class="el" id="L184">True</text>
<text class="el" id="L176">False</text><text class="el" id="L177">True</text>
<text class="el" id="L178">False</text><text class="el" id="L183">True</text>
<text class="el" id="L179">False</text><text class="el" id="L180">True</text>
<text class="el" id="L181">False</text><text class="el" id="L182">True</text>
<text class="el" id="L185">False</text><text class="el" id="L186">True</text>
<text class="el" id="L187">False</text><text class="el" id="L188">True</text>
</g>
</svg>
<script>
(function(){
var T={0:[1,102],1:[2,101],2:[3,68],3:[4,45],4:[5,26],5:[6,23],6:[7,22],7:[8,17],8:[9,14],9:[10,11],11:[12,13],14:[15,16],17:[18,19],19:[20,21],23:[24,25],26:[27,36],27:[28,31],28:[29,30],31:[32,35],32:[33,34],36:[37,44],37:[38,43],38:[39,42],39:[40,41],45:[46,63],46:[47,48],48:[49,54],49:[50,51],51:[52,53],54:[55,56],56:[57,60],57:[58,59],60:[61,62],63:[64,67],64:[65,66],68:[69,84],69:[70,83],70:[71,82],71:[72,73],73:[74,75],75:[76,79],76:[77,78],79:[80,81],84:[85,98],85:[86,97],86:[87,88],88:[89,90],90:[91,92],92:[93,96],93:[94,95],98:[99,100],102:[103,104],104:[105,134],105:[106,131],106:[107,130],107:[108,119],108:[109,110],110:[111,116],111:[112,113],113:[114,115],116:[117,118],119:[120,123],120:[121,122],123:[124,129],124:[125,128],125:[126,127],131:[132,133],134:[135,162],135:[136,141],136:[137,138],138:[139,140],141:[142,159],142:[143,154],143:[144,151],144:[145,146],146:[147,150],147:[148,149],151:[152,153],154:[155,156],156:[157,158],159:[160,161],162:[163,174],163:[164,171],164:[165,170],165:[166,169],166:[167,168],171:[172,173],174:[175,184],175:[176,177],177:[178,183],178:[179,180],180:[181,182],184:[185,186],186:[187,188]};
var SZ={i1:[100,55],i2:[109,55],i3:[118,55],la:[111.5,76],lb:[120.5,76],lc:[118,76]};
var N={};
var gs=document.querySelectorAll('g.n');
for(var i=0;i<gs.length;i++){var g=gs[i];var m=g.getAttribute('transform').match(/([\d.]+),([\d.]+)/);var u=g.querySelector('use').getAttribute('href').slice(1);N[g.id.slice(1)]={x:+m[1],y:+m[2],w:SZ[u][0],h:SZ[u][1]};}
var E=document.getElementById('E');var ns='http://www.w3.org/2000/svg';
for(var k in T){var p=N[k];for(var j=0;j<2;j++){var cid=T[k][j];var c=N[cid];if(!p||!c)continue;
var dx=c.x-p.x,dy=c.y-p.y;var s=(c.h/2)/dy;if(Math.abs(dx)>0.01)s=Math.min(s,(c.w/2)/Math.abs(dx));
var ex=c.x-dx*s,ey=c.y-dy*s;
var l=document.createElementNS(ns,'line');l.setAttribute('x1',p.x);l.setAttribute('y1',p.y);l.setAttribute('x2',ex);l.setAttribute('y2',ey);l.setAttribute('marker-end','url(#ah)');E.appendChild(l);
var my=((p.y+p.h/2)+(c.y-c.h/2))/2;var lx=p.x+dx*(my-p.y)/dy;
var t=document.getElementById('L'+cid);if(t){t.setAttribute('x',(lx+2+0.12*Math.abs(dx)).toFixed(1));t.setAttribute('y',(my+6).toFixed(1));}
}}
})();
</script>
</body></html>
